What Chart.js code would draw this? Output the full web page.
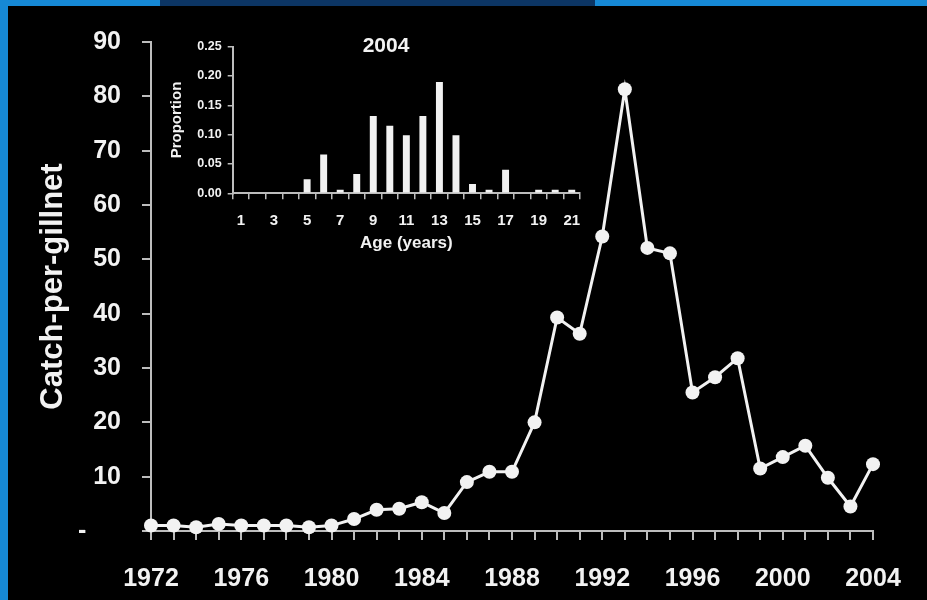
<!DOCTYPE html>
<html lang="en">
<head>
<meta charset="UTF-8"/>
<title>Catch-per-gillnet</title>
<style>
    html, body {
        margin: 0;
        width: 927px;
        height: 600px;
        overflow: hidden;
        background: #1689d6;
        font-family: "Liberation Sans", Arial, sans-serif;
    }
    /* darker piece of the slide's top band */
    .topband {
        position: absolute;
        left: 160px; top: 0;
        width: 435px; height: 6px;
        background: #0c3564;
    }
    .panel {
        position: absolute;
        left: 8px; top: 6px;
        width: 919px; height: 594px;
        background: #000;
    }
    .inset {
        position: absolute;
        left: 160px; top: 25px;
        width: 440px; height: 240px;
    }
    .inset-title {
        position: absolute;
        left: 336px; top: 33px;
        width: 100px;
        text-align: center;
        color: #f2f2f2;
        font-weight: bold;
        font-size: 21px;
    }
</style>
</head>
<body>
<div class="topband"></div>
<div class="panel">
    <canvas id="mainChart" width="919" height="594"></canvas>
</div>
<div class="inset">
    <canvas id="insetChart" width="440" height="240"></canvas>
</div>
<div class="inset-title">2004</div>

<script src="https://cdn.jsdelivr.net/npm/chart.js"></script>
<script>
// main series: catch per gillnet by year
const years = [1972, 1973, 1974, 1975, 1976, 1977, 1978, 1979, 1980, 1981, 1982,
               1983, 1984, 1985, 1986, 1987, 1988, 1989, 1990, 1991, 1992, 1993,
               1994, 1995, 1996, 1997, 1998, 1999, 2000, 2001, 2002, 2003, 2004];
const catchPerGillnet = [1.0, 1.0, 0.7, 1.3, 1.0, 1.0, 1.0, 0.7, 1.0, 2.2, 3.9,
                         4.1, 5.3, 3.3, 9.0, 10.9, 10.9, 20.0, 39.3, 36.3, 54.2, 81.3,
                         52.1, 51.1, 25.5, 28.3, 31.8, 11.5, 13.6, 15.7, 9.8, 4.5, 12.3];

// inset: 2004 age composition
const ages = ['1', '2', '3', '4', '5', '6', '7', '8', '9', '10', '11',
              '12', '13', '14', '15', '16', '17', '18', '19', '20', '21'];
const proportions = [0, 0, 0, 0, 0.024, 0.066, 0.006, 0.033, 0.132, 0.115, 0.099,
                     0.132, 0.19, 0.099, 0.016, 0.006, 0.040, 0, 0.006, 0.006, 0.006];

const white = '#f2f2f2';
const axisGrey = '#bdbdbd';
const fontFamily = '"Liberation Sans", Arial, sans-serif';

Chart.defaults.animation = false;
Chart.defaults.color = white;

new Chart(document.getElementById('mainChart'), {
    type: 'line',
    data: {
        datasets: [{
            data: years.map((y, i) => ({x: y, y: catchPerGillnet[i]})),
            borderColor: white,
            backgroundColor: white,
            borderWidth: 3,
            pointRadius: 7,
            pointBorderWidth: 0,
            tension: 0,
            clip: false
        }]
    },
    options: {
        responsive: false,
        layout: { padding: { top: 36, right: 54, left: 0, bottom: 0 } },
        plugins: { legend: { display: false }, tooltip: { enabled: false } },
        scales: {
            x: {
                type: 'linear',
                min: 1972,
                max: 2004,
                afterFit: s => { s.height = 69; },
                border: { color: axisGrey, width: 2 },
                grid: { drawOnChartArea: false, color: axisGrey, tickLength: 9, lineWidth: 2 },
                ticks: {
                    stepSize: 1,
                    autoSkip: false,
                    maxRotation: 0,
                    padding: 24,
                    font: { family: fontFamily, size: 25, weight: 'bold' },
                    callback: v => (v % 4 === 0 ? String(v) : '')
                }
            },
            y: {
                min: 0,
                max: 90,
                afterFit: s => { s.width = 143; },
                border: { color: axisGrey, width: 2 },
                grid: { drawOnChartArea: false, color: axisGrey, tickLength: 9, lineWidth: 2 },
                ticks: {
                    stepSize: 10,
                    padding: 21,
                    font: { family: fontFamily, size: 25, weight: 'bold' },
                    callback: v => (v === 0 ? '-     ' : String(v))
                },
                title: {
                    display: true,
                    text: 'Catch-per-gillnet',
                    color: white,
                    padding: { top: 27, bottom: 0 },
                    font: { family: fontFamily, size: 31, weight: 'bold' }
                }
            }
        }
    }
});

new Chart(document.getElementById('insetChart'), {
    type: 'bar',
    data: {
        labels: ages,
        datasets: [{
            data: proportions,
            backgroundColor: white,
            barPercentage: 0.42,
            categoryPercentage: 1
        }]
    },
    options: {
        responsive: false,
        layout: { padding: { top: 21.7, right: 20, left: 0, bottom: 0 } },
        plugins: { legend: { display: false }, tooltip: { enabled: false } },
        scales: {
            x: {
                afterFit: s => { s.height = 71.7; },
                border: { color: axisGrey, width: 2 },
                grid: { drawOnChartArea: false, offset: true, color: axisGrey, tickLength: 6, lineWidth: 1.5 },
                ticks: {
                    autoSkip: false,
                    maxRotation: 0,
                    padding: 13,
                    font: { family: fontFamily, size: 15, weight: 'bold' },
                    callback: (v, i) => (i % 2 === 0 ? ages[i] : '')
                },
                title: {
                    display: true,
                    text: 'Age (years)',
                    color: white,
                    padding: { top: 0, bottom: 11 },
                    font: { family: fontFamily, size: 17, weight: 'bold' }
                }
            },
            y: {
                min: 0,
                max: 0.25,
                afterFit: s => { s.width = 72.7; },
                border: { color: axisGrey, width: 2 },
                grid: { drawOnChartArea: false, color: axisGrey, tickLength: 5, lineWidth: 1.5 },
                ticks: {
                    stepSize: 0.05,
                    padding: 6,
                    font: { family: fontFamily, size: 12.5, weight: 'bold' },
                    callback: v => Number(v).toFixed(2)
                },
                title: {
                    display: true,
                    text: 'Proportion',
                    color: white,
                    padding: { top: 8, bottom: 0 },
                    font: { family: fontFamily, size: 15, weight: 'bold' }
                }
            }
        }
    }
});
</script>
</body>
</html>
